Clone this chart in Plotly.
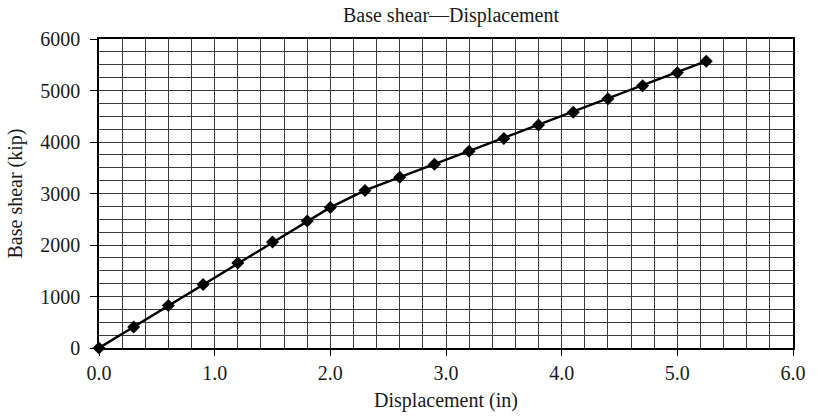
import plotly.graph_objects as go

# Pushover curve: roof displacement vs. base shear
displacement_in = [0.0, 0.3, 0.6, 0.9, 1.2, 1.5, 1.8, 2.0, 2.3, 2.6,
                   2.9, 3.2, 3.5, 3.8, 4.1, 4.4, 4.7, 5.0, 5.25]
base_shear_kip = [0, 410, 825, 1235, 1650, 2060, 2465, 2730, 3060, 3315,
                  3570, 3820, 4070, 4330, 4580, 4840, 5090, 5345, 5570]

x_ticks = [0, 1, 2, 3, 4, 5, 6]
x_tick_labels = ["0.0", "1.0", "2.0", "3.0", "4.0", "5.0", "6.0"]
y_ticks = [0, 1000, 2000, 3000, 4000, 5000, 6000]

FONT = "Liberation Serif, DejaVu Serif, serif"
TEXT = "#1a1a1a"
GRID = "#3a3a3a"

fig = go.Figure(
    go.Scatter(
        x=displacement_in,
        y=base_shear_kip,
        mode="lines+markers",
        line=dict(color="black", width=2.4),
        marker=dict(symbol="diamond", size=10, color="black"),
        showlegend=False,
        cliponaxis=False,
    )
)

fig.update_layout(
    width=818,
    height=420,
    margin=dict(l=99, r=15, t=39, b=61),
    paper_bgcolor="white",
    plot_bgcolor="white",
    font=dict(family=FONT, size=20, color=TEXT),
    title=dict(
        text="Base shear\u2014Displacement",
        x=(99 + 803) / 2 / 818,
        xanchor="center",
        y=1 - 15 / 420,
        yanchor="middle",
        font=dict(family=FONT, size=20, color=TEXT),
    ),
)

fig.update_xaxes(
    range=[0, 6],
    tickvals=x_ticks,
    ticktext=x_tick_labels,
    ticks="outside",
    ticklen=6,
    tickwidth=1.2,
    tickcolor="black",
    showline=True,
    linecolor="black",
    linewidth=1.5,
    mirror=True,
    showgrid=True,
    gridcolor=GRID,
    gridwidth=1,
    minor=dict(dtick=0.2, showgrid=True, gridcolor=GRID, gridwidth=1),
    zeroline=False,
    title=dict(text="Displacement (in)", standoff=10,
               font=dict(family=FONT, size=20)),
)

fig.update_yaxes(
    range=[0, 6000],
    tickvals=y_ticks,
    ticks="outside",
    ticklen=7,
    tickwidth=1.2,
    tickcolor="black",
    ticklabelstandoff=6,
    showline=True,
    linecolor="black",
    linewidth=1.5,
    mirror=True,
    showgrid=True,
    gridcolor=GRID,
    gridwidth=1,
    minor=dict(dtick=250, showgrid=True, gridcolor=GRID, gridwidth=1),
    zeroline=False,
    title=dict(text="Base shear (kip)", standoff=12,
               font=dict(family=FONT, size=20)),
)

fig.write_html("out.html")
